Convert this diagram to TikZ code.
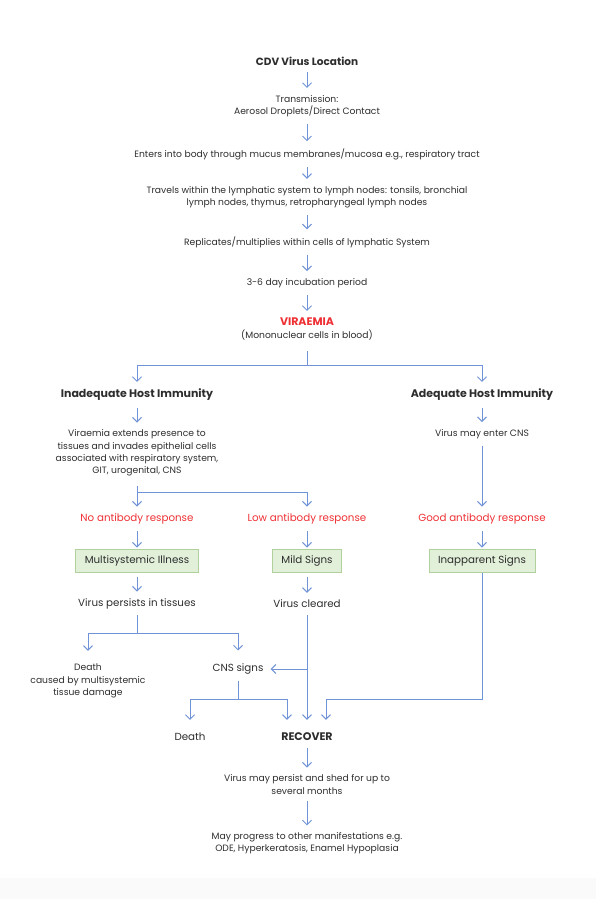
\documentclass[tikz,border=0pt]{standalone}
\usepackage{fontspec}
\setmainfont{Poppins}
\usepackage{xcolor}
\usetikzlibrary{arrows.meta, positioning, calc}
\definecolor{flowblue}{RGB}{112,146,214}
\definecolor{inktext}{RGB}{45,45,45}
\definecolor{alertred}{RGB}{238,48,52}
\definecolor{boxfill}{RGB}{226,240,217}
\definecolor{boxedge}{RGB}{176,208,156}
\newcommand{\bodyfont}{\fontsize{9.2bp}{12.3bp}\selectfont}
\newcommand{\largefont}{\fontsize{10.3bp}{12.3bp}\selectfont}
\begin{document}
\begin{tikzpicture}[
    x = 1bp, y = -1bp, > = {Straight Barb[length=4.5bp, width=9bp]},
    every node/.style = {
      text = inktext, font = \bodyfont, align = center, inner sep = 3bp
    },
    heading/.style = {font = \fontsize{11bp}{13bp}\selectfont\bfseries},
    title/.style = {font = \fontsize{10.5bp}{13bp}\selectfont\bfseries},
    step large/.style = {font = \largefont},
    response/.style = {text = alertred, font = \largefont},
    outcome/.style = {
      rectangle, draw = boxedge, fill = boxfill, line width = 0.8bp,
      font = \largefont, minimum height = 23bp, inner xsep = 9bp
    },
    flow/.style = {
      ->, draw = flowblue, line width = 1bp, shorten < = 4bp, shorten > = 4bp
    },
    % fork arrows start on a bar, so no gap at their start
    branch/.style = {flow, shorten < = 0bp},
    link/.style = {draw = flowblue, line width = 1bp},
    ]

    \useasboundingbox (0,0) rectangle (596,899);
    \fill [black!2] (0,878) rectangle (596,899);

    % main column down to viraemia
    \node  [title]  (cdv)  at (307,61)  {CDV Virus Location};
    \node  (trans)  at (307,106)  {Transmission:\\Aerosol Droplets/Direct Contact};
    \node  (enter)  at (307,154)  {Enters into body through mucus membranes/mucosa e.g., respiratory tract};
    \node  (travel)  at (307,197)  {Travels within the lymphatic system to lymph nodes: tonsils, bronchial\\lymph nodes, thymus, retropharyngeal lymph nodes};
    \node  (repl)  at (307,242)  {Replicates/multiplies within cells of lymphatic System};
    \node  (incub)  at (307,283)  {3-6 day incubation period};
    \node  (viraemia)  at (307,329)  {\textcolor{alertred}{\fontsize{11bp}{13bp}\selectfont\bfseries VIRAEMIA}\\(Mononuclear cells in blood)};

    % host immunity branches
    \node  [heading]  (inad)  at (137,395)  {Inadequate Host Immunity};
    \node  [heading]  (adeq)  at (482,395)  {Adequate Host Immunity};
    \node  (extend)  at (137,453)  {Viraemia extends presence to\\tissues and invades epithelial cells\\associated with respiratory system,\\GIT, urogenital, CNS};
    \node  (entercns)  at (482,434)  {Virus may enter CNS};

    % antibody responses and signs
    \node  [response]  (noab)  at (137,519)  {No antibody response};
    \node  [response]  (lowab)  at (307,519)  {Low antibody response};
    \node  [response]  (goodab)  at (482,519)  {Good antibody response};
    \node  [outcome]  (multi)  at (137,561)  {Multisystemic Illness};
    \node  [outcome]  (mild)  at (307,561)  {Mild Signs};
    \node  [outcome]  (inapp)  at (482,561)  {Inapparent Signs};

    % outcomes
    \node  [step large]  (persist)  at (137,604)  {Virus persists in tissues};
    \node  [step large]  (cleared)  at (307,604)  {Virus cleared};
    \node  (death1)  at (88,681)  {Death\\caused by multisystemic\\tissue damage};
    \node  [step large]  (cnssigns)  at (238,669)  {CNS signs};
    \node  [step large]  (death2)  at (190,737)  {Death};
    \node  [heading]  (recover)  at (307,737)  {RECOVER};
    \node  (shed)  at (307,784.5)  {Virus may persist and shed for up to\\several months};
    \node  (progress)  at (307,843.5)  {May progress to other manifestations e.g.\\ODE, Hyperkeratosis, Enamel Hypoplasia};

    % fork points
    \coordinate  (forkhost)  at (307,365);
    \coordinate  (forkab)  at (137,492);
    \coordinate  (forkpersist)  at (137,633);
    \coordinate  (forkclear)  at (307,669);
    \coordinate  (forkcns)  at (238,699);
    \coordinate  (bendinapp)  at (482,699);

    % straight steps
    \draw  [flow]  (cdv)  --  (trans);
    \draw  [flow]  (trans)  --  (enter);
    \draw  [flow]  (enter)  --  (travel);
    \draw  [flow]  (travel)  --  (repl);
    \draw  [flow]  (repl)  --  (incub);
    \draw  [flow]  (incub)  --  (viraemia);
    \draw  [flow]  (inad)  --  (extend);
    \draw  [flow]  (adeq)  --  (entercns);
    \draw  [flow]  (entercns)  --  (goodab);
    \draw  [flow, shorten > = 1.5bp]  (noab)  --  (multi);
    \draw  [flow, shorten > = 1.5bp]  (lowab)  --  (mild);
    \draw  [flow, shorten > = 1.5bp]  (goodab)  --  (inapp);
    \draw  [flow]  (multi)  --  (persist);
    \draw  [flow]  (mild)  --  (cleared);
    \draw  [flow]  (recover)  --  (shed);
    \draw  [flow]  (shed)  --  (progress);

    % forks
    \draw  [link, shorten < = 8bp]  (viraemia)  --  (forkhost);
    \draw  [branch]  (forkhost)  -|  (inad);
    \draw  [branch]  (forkhost)  -|  (adeq);
    \draw  [flow, shorten < = 7bp]  (extend)  --  (noab);
    \draw  [branch]  (forkab)  -|  (lowab);
    \draw  [link, shorten < = 3bp]  (persist)  --  (forkpersist);
    \draw  [branch, shorten > = 10bp]  (forkpersist)  -|  (death1);
    \draw  [branch, shorten > = 10bp]  (forkpersist)  -|  (cnssigns);
    \draw  [flow, shorten > = 10bp]  (cleared)  --  (recover);
    \draw  [branch]  (forkclear)  --  (cnssigns);
    \draw  [link, shorten < = 3bp]  (cnssigns)  --  (forkcns);
    \draw  [branch, shorten > = 10bp]  (forkcns)  -|  (death2);
    \draw  [branch, shorten > = 10bp]  (forkcns)  -|  ([xshift=-20bp]recover.north);
    \draw  [branch, shorten > = 10bp]  (inapp)  --  (bendinapp)  -|  ([xshift=19bp]recover.north);

\end{tikzpicture}
\end{document}
